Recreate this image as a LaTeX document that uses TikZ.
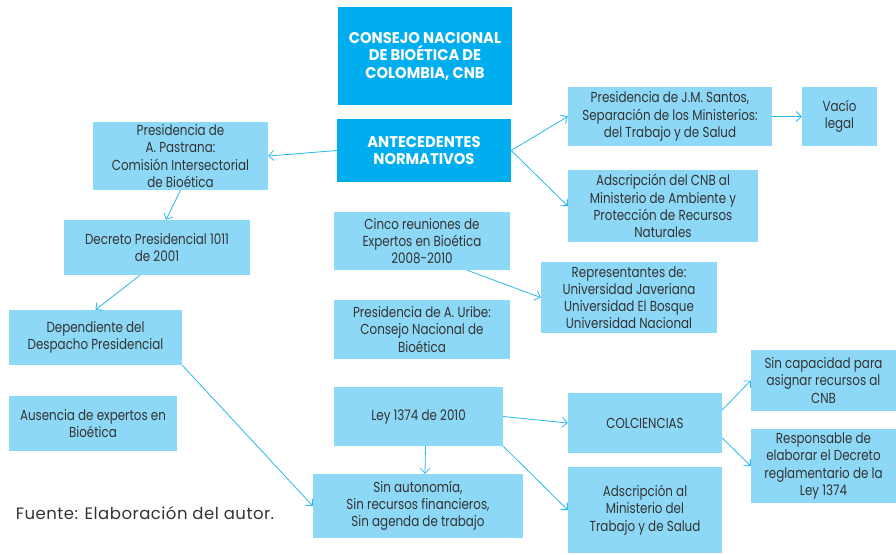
\documentclass[tikz,border=0pt]{standalone}
\usepackage{fontspec}
\setmainfont{Poppins}[FakeStretch=0.82]
\newfontfamily\titulo{Poppins}[FakeStretch=0.95]
\newfontfamily\fuente{Poppins}[LetterSpace=3]
\usetikzlibrary{arrows.meta}
\definecolor{celeste}{HTML}{8DD8F6}
\definecolor{azul}{HTML}{00AEEF}
\definecolor{linea}{HTML}{29B8EC}
\definecolor{texto}{HTML}{333333}
\tikzset{
  caja/.style={fill=celeste, text=texto, align=center, inner sep=0pt,
    font=\fontsize{14.5}{17.2}\selectfont},
  cajafuerte/.style={fill=azul, text=white, align=center, inner sep=0pt,
    font=\titulo\bfseries\fontsize{15.5}{17.5}\selectfont},
  flecha/.style={draw=linea, line width=0.8pt, -{Straight Barb[length=5pt,width=10pt]}}
}
\begin{document}
\begin{tikzpicture}[x=1pt, y=-1pt]
  \useasboundingbox (0,0) rectangle (896,554);

  % cuadros principales
  \node[cajafuerte, minimum width=174pt, minimum height=98pt] (cnb) at (425,56)
    {CONSEJO NACIONAL\\DE BIOÉTICA DE\\COLOMBIA, CNB};
  \node[cajafuerte, minimum width=174pt, minimum height=63pt] (ante) at (424,150.5)
    {ANTECEDENTES\\NORMATIVOS};

  % rama izquierda
  \node[caja, minimum width=175pt, minimum height=68pt] (pastrana) at (180.5,156)
    {Presidencia de\\A. Pastrana:\\Comisión Intersectorial\\de Bioética};
  \node[caja, minimum width=186pt, minimum height=55pt] (decreto) at (157,247.5)
    {Decreto Presidencial 1011\\de 2001};
  \node[caja, minimum width=173pt, minimum height=55pt] (despacho) at (95.5,337.5)
    {Dependiente del\\Despacho Presidencial};
  \node[caja, minimum width=168pt, minimum height=55pt] (ausencia) at (93,423.5)
    {Ausencia de expertos en\\Bioética};

  % centro
  \node[caja, minimum width=176pt, minimum height=58pt] (cinco) at (422,241)
    {Cinco reuniones de\\Expertos en Bioética\\2008-2010};
  \node[caja, minimum width=176pt, minimum height=59pt] (uribe) at (422,329.5)
    {Presidencia de A. Uribe:\\Consejo Nacional de\\Bioética};
  \node[caja, minimum width=169pt, minimum height=59pt] (ley) at (418.5,416.5)
    {Ley 1374 de 2010};
  \node[caja, minimum width=210pt, minimum height=64pt] (sinauto) at (418,506)
    {Sin autonomía,\\Sin recursos financieros,\\Sin agenda de trabajo};

  % rama derecha
  \node[caja, minimum width=204pt, minimum height=59pt] (santos) at (670,116.5)
    {Presidencia de J.M. Santos,\\Separación de los Ministerios:\\del Trabajo y de Salud};
  \node[caja, minimum width=75pt, minimum height=59pt] (vacio) at (839.5,116.5)
    {Vacío\\legal};
  \node[caja, minimum width=190pt, minimum height=72pt] (ambiente) at (663,206)
    {Adscripción del CNB al\\Ministerio de Ambiente y\\Protección de Recursos\\Naturales};
  \node[caja, minimum width=176pt, minimum height=71pt] (univ) at (629,297.5)
    {Representantes de:\\Universidad Javeriana\\Universidad El Bosque\\Universidad Nacional};
  \node[caja, minimum width=154pt, minimum height=60pt] (colc) at (645,423)
    {COLCIENCIAS};
  \node[caja, minimum width=154pt, minimum height=86pt] (minsalud) at (645,510)
    {Adscripción al\\Ministerio del\\Trabajo y de Salud};
  \node[caja, minimum width=145pt, minimum height=61pt] (sincap) at (823.5,380.5)
    {Sin capacidad para\\asignar recursos al\\CNB};
  \node[caja, minimum width=145pt, minimum height=74pt] (resp) at (823.5,466)
    {Responsable de\\elaborar el Decreto\\reglamentario de la\\Ley 1374};

  \node[text=texto, font=\fuente\fontsize{16.5}{18}\selectfont] (nota) at (145,513)
    {Fuente: Elaboración del autor.};

  % conectores
  \foreach \a/\b in {ante.west/pastrana.east, ante.east/santos.west,
      ante.east/ambiente.west, santos.east/vacio.west,
      despacho.south east/sinauto.west,
      ley.east/colc.west, ley.south east/minsalud.west} {
    \draw[flecha] (\a) -- (\b);
  }
  \draw[flecha] (pastrana.south) -- ([xshift=9pt]decreto.north);
  \draw[flecha] ([xshift=-17pt]decreto.south) -- (despacho.north);
  \draw[flecha] ([xshift=45pt]cinco.south) -- (univ.west);
  \draw[flecha] ([xshift=7pt]ley.south) -- ([xshift=7pt]sinauto.north);
  \draw[flecha] ([yshift=13pt]colc.east) -- (sincap.west);
  \draw[flecha] ([yshift=-15pt]colc.east) -- (resp.west);
\end{tikzpicture}
\end{document}
